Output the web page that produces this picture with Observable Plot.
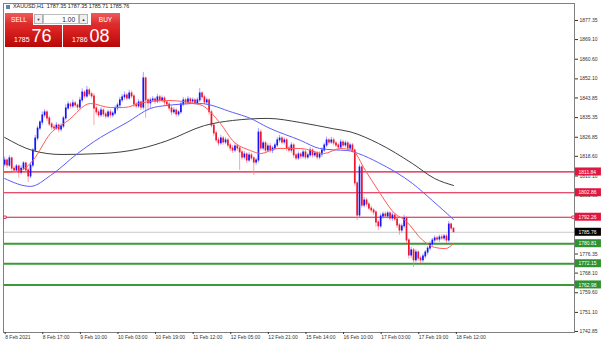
<!DOCTYPE html>
<html><head><meta charset="utf-8">
<script src="https://cdn.jsdelivr.net/npm/d3@7"></script>
<script src="https://cdn.jsdelivr.net/npm/@observablehq/plot@0.6"></script>
<style>
body{margin:0;background:#fff;font-family:"Liberation Sans",Arial,sans-serif;}
#wrap{position:relative;width:602px;height:346px;overflow:hidden;}
#chart svg{display:block;}
.p{position:absolute;box-sizing:border-box;display:flex;align-items:center;justify-content:center;}
#hdr{position:absolute;left:6px;top:3px;font-size:5.4px;color:#222;white-space:nowrap;}
#hdr .ico{display:inline-block;width:4px;height:4px;background:#6a7fa8;margin-right:3px;vertical-align:middle;}
#sell,#buy{top:13px;height:12px;background:linear-gradient(#f05a5a,#d92a2a);color:#fff;font-size:6.5px;}
#sell{left:5px;width:28px;}
#buy{left:91px;width:29px;}
#dn,#up{top:14px;width:9px;height:10px;background:#efefef;border:1px solid #b0b0b0;font-size:4px;color:#333;}
#dn{left:34px;} #up{left:79px;}
#lot{left:43px;top:14px;width:36px;height:10px;background:#fff;border:1px solid #bdbdbd;justify-content:flex-end;padding-right:3px;font-size:6.5px;color:#222;}
#bid,#ask{top:25px;width:57px;height:22px;background:linear-gradient(#e32a2a,#b70707);color:#fff;align-items:flex-end;justify-content:flex-start;}
#bid{left:5px;} #ask{left:63px;}
.sm{font-size:7px;margin:0 2px 4px 9px;}
.bg{font-size:18px;line-height:18px;margin-bottom:2px;}
</style></head><body>
<div id="wrap">
<div id="chart"></div>
<div id="hdr"><span class="ico"></span>XAUUSD,H1&nbsp; 1787.35 1787.35 1785.71 1785.76</div>
<div class="p" id="sell">SELL</div>
<div class="p" id="dn">▼</div>
<div class="p" id="lot">1.00</div>
<div class="p" id="up">▲</div>
<div class="p" id="buy">BUY</div>
<div class="p" id="bid"><span class="sm">1785</span><span class="bg">76</span></div>
<div class="p" id="ask"><span class="sm">1786</span><span class="bg">08</span></div>
</div>
<script>
// ---- data (H1 bars, index 0 = 8 Feb 2021) ----
const closes = [
1816.8,1814.6,1817.7,1813.3,1812.5,1814.2,1811.6,1813.3,1815.5,1812.5,
1809.9,1814.6,1821.1,1826.3,1830.6,1833.2,1836.3,1837.6,1835.0,1832.4,
1831.1,1830.6,1831.9,1830.2,1831.5,1835.0,1839.3,1841.0,1840.2,1841.5,
1840.6,1839.7,1842.8,1846.2,1844.5,1847.1,1845.4,1844.5,1839.3,1837.6,
1836.3,1838.4,1836.7,1835.8,1837.6,1836.3,1837.1,1839.3,1840.6,1842.8,
1844.1,1844.9,1843.6,1845.8,1844.5,1841.0,1840.2,1841.9,1839.7,1852.3,
1842.8,1841.5,1842.8,1843.2,1842.3,1844.1,1842.8,1843.6,1841.9,1841.0,
1839.3,1837.6,1838.4,1836.7,1837.6,1841.0,1842.8,1841.9,1843.2,1842.3,
1842.8,1841.5,1842.8,1845.8,1844.1,1841.9,1842.8,1837.6,1831.9,1828.5,
1825.5,1824.2,1826.3,1824.6,1825.5,1823.3,1822.0,1821.1,1822.9,1822.0,
1820.3,1818.1,1819.4,1816.8,1819.0,1817.7,1815.9,1816.8,1828.9,1822.0,
1824.2,1821.1,1822.9,1821.1,1822.0,1823.3,1825.5,1826.3,1824.6,1825.5,
1822.0,1821.1,1823.3,1819.0,1817.7,1819.4,1818.5,1820.3,1818.1,1819.0,
1821.1,1819.0,1819.8,1818.1,1819.4,1821.1,1823.3,1825.5,1824.6,1825.5,
1824.2,1823.3,1822.4,1824.6,1823.3,1824.2,1822.0,1823.3,1821.1,1806.9,
1793.0,1813.8,1797.3,1799.5,1797.8,1796.0,1795.2,1794.3,1790.0,1788.3,
1792.6,1793.5,1792.6,1793.9,1791.7,1793.0,1791.3,1788.7,1786.5,1788.3,
1791.7,1782.2,1775.7,1777.9,1773.6,1777.0,1774.4,1773.6,1775.3,1777.0,
1778.7,1780.5,1782.2,1783.1,1782.6,1783.5,1783.1,1783.9,1782.2,1789.1,
1787.35,1785.76];
const opens = [
1815.0,1816.8,1814.6,1817.7,1813.3,1812.5,1814.2,1811.6,1813.3,1815.5,
1812.5,1809.9,1814.6,1821.1,1826.3,1830.6,1833.2,1836.3,1837.6,1835.0,
1832.4,1831.1,1830.6,1831.9,1830.2,1831.5,1835.0,1839.3,1841.0,1840.2,
1841.5,1840.6,1839.7,1842.8,1846.2,1844.5,1847.1,1845.4,1844.5,1839.3,
1837.6,1836.3,1838.4,1836.7,1835.8,1837.6,1836.3,1837.1,1839.3,1840.6,
1842.8,1844.1,1844.9,1843.6,1845.8,1844.5,1841.0,1840.2,1841.9,1839.7,
1852.3,1842.8,1841.5,1842.8,1843.2,1842.3,1844.1,1842.8,1843.6,1841.9,
1841.0,1839.3,1837.6,1838.4,1836.7,1837.6,1841.0,1842.8,1841.9,1843.2,
1842.3,1842.8,1841.5,1842.8,1845.8,1844.1,1841.9,1842.8,1837.6,1831.9,
1828.5,1825.5,1824.2,1826.3,1824.6,1825.5,1823.3,1822.0,1821.1,1822.9,
1822.0,1820.3,1818.1,1819.4,1816.8,1819.0,1817.7,1815.9,1816.8,1828.9,
1822.0,1824.2,1821.1,1822.9,1821.1,1822.0,1823.3,1825.5,1826.3,1824.6,
1825.5,1822.0,1821.1,1823.3,1819.0,1817.7,1819.4,1818.5,1820.3,1818.1,
1819.0,1821.1,1819.0,1819.8,1818.1,1819.4,1821.1,1823.3,1825.5,1824.6,
1825.5,1824.2,1823.3,1822.4,1824.6,1823.3,1824.2,1822.0,1823.3,1821.1,
1806.9,1793.0,1813.8,1797.3,1799.5,1797.8,1796.0,1795.2,1794.3,1790.0,
1788.3,1792.6,1793.5,1792.6,1793.9,1791.7,1793.0,1791.3,1788.7,1786.5,
1788.3,1791.7,1782.2,1775.7,1777.9,1773.6,1777.0,1774.4,1773.6,1775.3,
1777.0,1778.7,1780.5,1782.2,1783.1,1782.6,1783.5,1783.1,1783.9,1782.2,
1789.1,1787.35];
// wick lengths above / below the body
const wickHi = [
1.5,0.8,1.2,0.6,1.0,0.9,0.7,1.3,0.8,0.6, 1.0,1.2,0.9,1.4,1.1,0.8,1.5,1.2,0.9,1.0,
0.8,1.1,1.3,0.7,1.0,0.9,1.6,1.2,0.8,1.4, 0.9,0.7,1.3,1.6,0.8,1.7,1.0,0.9,1.2,0.8,
1.1,1.3,0.7,1.0,0.9,1.2,0.8,1.1,1.0,1.3, 1.2,1.5,0.9,1.4,1.0,0.8,0.9,1.2,0.7,2.6,
0.5,0.9,1.0,1.2,0.8,1.3,0.9,1.1,0.8,0.7, 0.9,1.0,1.2,0.8,0.7,1.1,1.2,0.9,1.3,0.8,
1.0,0.9,1.1,2.1,0.8,0.9,1.0,0.7,0.9,0.8, 1.0,1.2,1.4,0.9,1.1,0.8,1.0,1.3,1.2,0.9,
0.8,1.0,1.2,0.7,1.1,0.9,0.8,1.0,1.7,1.2, 1.0,0.8,1.1,1.2,0.9,1.0,1.3,1.4,0.8,1.1,
0.9,1.0,1.2,0.8,0.9,1.1,0.8,1.2,0.9,1.0, 1.3,0.8,1.0,0.9,1.1,1.2,1.0,1.4,0.9,1.3,
1.0,0.8,0.9,1.2,1.0,1.1,0.8,1.0,0.9,0.7, 0.8,1.2,0.9,1.3,1.0,0.9,1.1,0.8,0.9,1.0,
1.2,1.0,1.1,0.9,0.8,1.2,0.9,1.0,0.8,1.1, 1.4,0.9,0.8,1.3,0.9,1.2,0.8,1.0,1.1,0.9,
1.0,1.2,0.9,1.1,0.8,1.0,1.2,0.9,1.0,1.3, 0.6,0.0];
const wickLo = [
1.0,1.3,0.8,1.2,1.0,0.9,2.5,1.1,0.8,1.2, 2.6,0.9,1.0,0.8,1.1,0.9,1.2,1.0,1.3,0.9,
1.2,1.0,0.8,1.4,1.1,0.9,1.0,0.8,1.2,0.9, 1.1,1.3,0.9,1.0,1.2,0.8,1.0,1.1,7.4,1.2,
1.0,0.9,1.3,1.1,0.8,1.2,1.0,0.9,1.1,1.0, 0.9,1.2,1.0,0.8,1.1,1.3,1.0,0.9,1.2,1.0,
7.8,3.0,2.5,1.0,1.2,0.9,1.1,1.0,1.3,1.0, 1.2,1.4,0.9,1.1,1.0,0.8,1.0,1.1,0.9,1.2,
1.0,1.1,0.9,1.0,1.2,0.9,1.1,1.3,1.0,1.2, 1.1,1.3,0.9,1.2,1.0,1.1,1.4,1.2,1.0,1.3,
7.8,1.2,1.0,1.3,0.9,1.1,5.6,1.2,1.0,1.1, 1.0,1.2,0.9,1.1,1.3,1.0,0.9,1.2,1.0,1.1,
1.2,1.0,1.1,1.3,1.0,0.9,1.2,1.0,1.1,0.9, 1.0,1.2,0.9,1.1,1.0,1.2,0.8,1.0,1.1,0.9,
1.1,1.0,1.2,0.9,1.0,1.1,1.2,0.9,1.0,1.3, 2.2,0.9,1.1,1.0,1.2,0.9,1.1,1.3,2.0,1.8,
1.0,1.2,0.9,1.1,1.0,1.2,1.0,1.3,2.0,1.1, 1.0,1.2,1.5,1.3,3.1,1.0,1.2,1.4,1.0,1.1,
1.2,1.0,0.9,1.1,1.0,1.2,0.9,1.1,1.3,1.0, 1.0,0.05];

// moving averages, sampled (bar index, price)
const maFastBars = [0,7,12,19.5,27,36.5,45,50.6,59,69,83,91.8,97,104.6,109,116,126,135.7,143,148,153.5,159,166,170.5,178,183,187.6,191];
const maFast     = [1811.6,1812.5,1816.8,1828.5,1834.1,1841.45,1839.7,1839.7,1841.9,1842.75,1841.0,1832.8,1825.45,1821.1,1819.8,1822.0,1822.0,1819.8,1822.0,1821.1,1812.5,1803.8,1793.9,1790.85,1782.2,1779.2,1778.7,1780.9];
const maMidBars  = [0,11,19.5,31,40.8,47.2,52,62,69,83,97,104.6,112,126,134,140,146,150.5,159,173.5,182,191];
const maMid      = [1809.0,1805.6,1810.3,1819.8,1826.8,1830.5,1833.2,1839.3,1840.6,1841.45,1837.6,1835.0,1831.1,1825.45,1822.0,1821.4,1821.1,1819.8,1815.9,1806.9,1799.5,1791.3];
const maSlowBars = [0,12,24,41,58,69,85,97,112,126,140,147,159,173.5,183,191];
const maSlow     = [1826.75,1821.1,1819.4,1819.8,1822.0,1825.3,1831.9,1834.1,1835.0,1833.2,1830.5,1829.2,1824.2,1815.5,1809.0,1806.0];

// horizontal levels and price tags
const levelValues = [1811.84,1802.86,1792.26,1780.81,1772.15,1762.98];
const levelKinds  = ["resistance","resistance","resistance","support","support","support"];
const lastPrice = 1785.76;
const tagValues = [1811.84,1802.86,1792.26,1785.76,1780.81,1772.15,1762.98];
const tagKinds  = ["resistance","resistance","resistance","price","support","support","support"];

// axes (ticks hidden behind tags in the reference are left out)
const priceTicks = [1877.35,1869.10,1860.60,1852.10,1843.85,1835.35,1826.85,1818.60,1810.10,1801.60,1776.35,1768.10,1759.60,1751.10,1742.85];
const timeTickBars = [0,16,32,48,64,80,96,112,128,144,160,176,192];
const timeLabels = ["8 Feb 2021","8 Feb 17:00","9 Feb 10:00","10 Feb 03:00","10 Feb 19:00","11 Feb 12:00","12 Feb 05:00","12 Feb 21:00","15 Feb 14:00","16 Feb 10:00","17 Feb 03:00","17 Feb 19:00","18 Feb 12:00"];

// ---- chart ----
const X0 = -0.5, X1 = 242.5;
const Y0 = 1742.41, Y1 = 1884.70;
const barPx = 571 / (X1 - X0);
const yPx = 329 / (Y1 - Y0);
const UP = "#1414ff", DN = "#f0142d";
const kindColor = k => k === "resistance" ? "#e0173f" : k === "support" ? "#2f912f" : "#000000";

const bars = closes.map((c, i) => {
  const o = opens[i];
  return {i, o, c, h: Math.max(o, c) + wickHi[i], l: Math.min(o, c) - wickLo[i], up: c >= o};
});
const pts = (xs, vs) => xs.map((b, k) => ({b, v: vs[k]}));
const levels = levelValues.map((v, k) => ({v, kind: levelKinds[k]}));
const tags = tagValues.map((v, k) => ({v, kind: tagKinds[k]}));
const tagW = 26 / barPx, tagH = 4 / yPx;

const chart = Plot.plot({
  width: 602, height: 346,
  marginLeft: 3, marginRight: 28, marginTop: 3, marginBottom: 14,
  x: {domain: [X0, X1], axis: null},
  y: {domain: [Y0, Y1], axis: null},
  style: {fontFamily: "Liberation Sans, Arial, sans-serif", fontSize: "5px", background: "#fff", overflow: "visible"},
  marks: [
    Plot.ruleY([lastPrice], {stroke: "#c8c8c8", strokeWidth: 1}),
    Plot.ruleY(levels.filter(d => d.kind === "support"), {y: "v", stroke: "#3a9a3a", strokeWidth: 2}),
    Plot.ruleY(levels.filter(d => d.kind === "resistance"), {y: "v", stroke: "#dc143c", strokeWidth: 1.2}),
    Plot.ruleX(bars, {x: "i", y1: "l", y2: "h", stroke: d => d.up ? "#7a7aff" : "#ff7a8a", strokeWidth: 0.7}),
    Plot.ruleX(bars, {x: "i", y1: d => Math.min(d.o, d.c) - 0.2, y2: d => Math.max(d.o, d.c) + 0.2, stroke: d => d.up ? UP : DN, strokeWidth: 1.7}),
    Plot.line(pts(maSlowBars, maSlow), {x: "b", y: "v", curve: "monotone-x", stroke: "#404040", strokeWidth: 1}),
    Plot.line(pts(maMidBars, maMid), {x: "b", y: "v", curve: "monotone-x", stroke: "#5c5cff", strokeWidth: 1}),
    Plot.line(pts(maFastBars, maFast), {x: "b", y: "v", curve: "monotone-x", stroke: "#ff5a5a", strokeWidth: 1}),
    Plot.frame({stroke: "#808080"}),
    Plot.dot([levelValues[2], levelValues[2]], {x: (d, k) => k === 0 ? X0 + 0.6 : X1 - 0.6, y: d => d, symbol: "square", r: 1.4, fill: "#fff", stroke: "#dc143c", strokeWidth: 0.8}),
    Plot.axisY(priceTicks, {anchor: "right", tickSize: 3, tickPadding: 2, tickFormat: d => d.toFixed(2), fontSize: 5, color: "#333"}),
    Plot.axisX(timeTickBars, {anchor: "bottom", tickSize: 2, tickPadding: 1, tickFormat: d => timeLabels[timeTickBars.indexOf(d)], textAnchor: "start", dx: 0.5, fontSize: 5, color: "#333"}),
    Plot.rect(tags, {x1: () => X1 + 0.4, x2: () => X1 + 0.4 + tagW, y1: d => d.v - tagH, y2: d => d.v + tagH, fill: d => kindColor(d.kind)}),
    Plot.text(tags, {x: () => X1 + 0.4, y: "v", text: d => d.v.toFixed(2), dx: 3, textAnchor: "start", fill: "#fff", fontSize: 5})
  ]
});
document.getElementById("chart").appendChild(chart);
</script>
</body></html>
